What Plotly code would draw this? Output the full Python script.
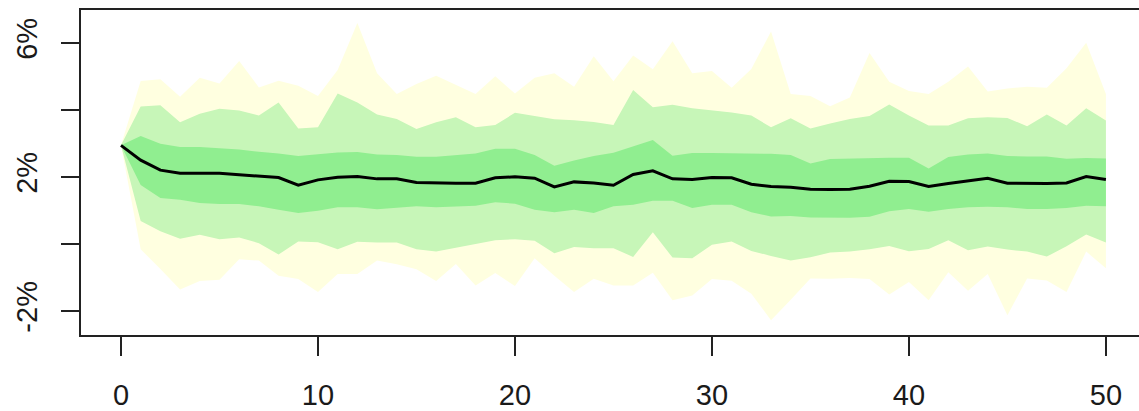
import plotly.graph_objects as go

t = list(range(0, 51))

median = [2.95, 2.51, 2.21, 2.12, 2.12, 2.12, 2.07, 2.04, 1.99, 1.76,
          1.92, 2.00, 2.02, 1.95, 1.95, 1.84, 1.82, 1.82, 1.82, 1.98,
          2.01, 1.97, 1.71, 1.86, 1.83, 1.76, 2.08, 2.19, 1.95, 1.93,
          1.99, 1.98, 1.79, 1.72, 1.70, 1.64, 1.63, 1.64, 1.73, 1.88,
          1.87, 1.72, 1.81, 1.88, 1.97, 1.82, 1.81, 1.81, 1.83, 2.02, 1.93]

inner_hi = [2.95, 3.23, 3.00, 2.90, 2.90, 2.86, 2.83, 2.76, 2.71, 2.63,
            2.68, 2.74, 2.75, 2.68, 2.66, 2.61, 2.61, 2.66, 2.71, 2.85,
            2.85, 2.66, 2.34, 2.50, 2.63, 2.73, 2.92, 3.11, 2.64, 2.72,
            2.72, 2.72, 2.71, 2.70, 2.66, 2.41, 2.54, 2.56, 2.58, 2.58,
            2.58, 2.26, 2.60, 2.68, 2.71, 2.63, 2.62, 2.62, 2.55, 2.57, 2.56]

inner_lo = [2.95, 1.77, 1.38, 1.33, 1.23, 1.20, 1.20, 1.13, 1.03, 0.93,
            1.00, 1.10, 1.10, 1.04, 1.08, 1.13, 1.10, 1.13, 1.15, 1.25,
            1.21, 1.03, 0.95, 1.03, 0.93, 1.13, 1.18, 1.30, 1.30, 1.08,
            1.18, 1.18, 0.95, 0.83, 0.84, 0.80, 0.79, 0.79, 0.82, 0.98,
            1.05, 0.97, 1.05, 1.10, 1.12, 1.10, 1.05, 1.05, 1.08, 1.15, 1.13]

mid_hi = [2.95, 4.11, 4.15, 3.64, 3.89, 4.04, 3.99, 3.84, 4.23, 3.45,
          3.49, 4.50, 4.23, 3.87, 3.74, 3.44, 3.64, 3.79, 3.49, 3.56,
          3.92, 3.82, 3.73, 3.70, 3.65, 3.56, 4.60, 4.09, 4.16, 4.06,
          4.00, 3.93, 3.84, 3.49, 3.76, 3.45, 3.60, 3.74, 3.83, 4.17,
          3.84, 3.54, 3.54, 3.76, 3.79, 3.77, 3.52, 3.87, 3.54, 4.06, 3.69]

mid_lo = [2.95, 0.69, 0.39, 0.16, 0.28, 0.15, 0.20, 0.03, -0.31, 0.08,
          0.06, -0.15, 0.07, 0.05, 0.05, -0.15, -0.22, -0.10, 0.00, 0.12,
          0.15, 0.10, -0.27, -0.08, -0.12, -0.12, -0.38, 0.36, -0.40, -0.42,
          -0.02, 0.08, -0.20, -0.35, -0.49, -0.39, -0.25, -0.22, -0.15, -0.05,
          -0.21, -0.14, 0.12, -0.18, -0.07, -0.16, -0.22, -0.37, -0.06, 0.29, 0.05]

outer_hi = [2.95, 4.87, 4.92, 4.40, 4.97, 4.80, 5.47, 4.68, 4.88, 4.73,
            4.42, 5.20, 6.60, 5.10, 4.48, 4.78, 5.03, 4.75, 4.48, 5.01,
            4.50, 4.97, 5.10, 4.70, 5.61, 4.86, 5.63, 5.22, 6.06, 5.10,
            5.17, 4.67, 5.23, 6.35, 4.48, 4.42, 4.12, 4.38, 5.71, 4.85,
            4.57, 4.48, 4.85, 5.30, 4.56, 4.65, 4.70, 4.67, 5.25, 6.01, 4.48]

outer_lo = [2.95, -0.15, -0.74, -1.35, -1.10, -1.06, -0.45, -0.49, -0.94, -1.04,
            -1.43, -0.89, -0.89, -0.49, -0.60, -0.75, -1.10, -0.59, -1.23, -0.86,
            -1.25, -0.42, -0.94, -1.43, -1.03, -1.23, -1.23, -0.85, -1.67, -1.53,
            -1.04, -1.09, -1.48, -2.27, -1.66, -1.02, -1.03, -1.01, -1.04, -1.50,
            -1.13, -1.67, -0.84, -1.39, -0.89, -2.12, -1.02, -1.08, -1.43, -0.22, -0.72]

y_tickvals = [-2, 0, 2, 4, 6]
y_ticktext = ["-2%", "", "2%", "", "6%"]
x_tickvals = [0, 10, 20, 30, 40, 50]

band_colors = ["#FFFFE0", "#C7F6B8", "#90EE90"]
bands = [(outer_hi, outer_lo), (mid_hi, mid_lo), (inner_hi, inner_lo)]

fig = go.Figure()
for (hi, lo), col in zip(bands, band_colors):
    fig.add_trace(go.Scatter(
        x=t + t[::-1], y=hi + lo[::-1],
        fill="toself", fillcolor=col, mode="lines",
        line=dict(width=0, color=col), hoverinfo="skip", showlegend=False))

fig.add_trace(go.Scatter(x=t, y=median, mode="lines",
                         line=dict(color="black", width=3), showlegend=False))

axis_font = dict(family="Liberation Sans, Arial, sans-serif", size=29, color="#1a1a1a")

fig.update_layout(
    width=1139, height=411,
    margin=dict(l=81, r=0, t=10, b=73, pad=0),
    paper_bgcolor="white", plot_bgcolor="white",
    showlegend=False,
    xaxis=dict(range=[-2.03, 51.68], tickvals=x_tickvals,
               showgrid=False, zeroline=False,
               showline=True, mirror=True, linecolor="#222", linewidth=2,
               ticks="outside", ticklen=19, tickwidth=2, tickcolor="#222",
               tickfont=axis_font, ticklabelstandoff=14),
    yaxis=dict(range=[-2.71, 6.99], tickvals=y_tickvals, ticktext=y_ticktext,
               showgrid=False, zeroline=False,
               showline=True, mirror=False, linecolor="#222", linewidth=2,
               ticks="outside", ticklen=18, tickwidth=2, tickcolor="#222",
               tickfont=axis_font, tickangle=-90, ticklabelstandoff=12),
)

fig.write_html("out.html")
